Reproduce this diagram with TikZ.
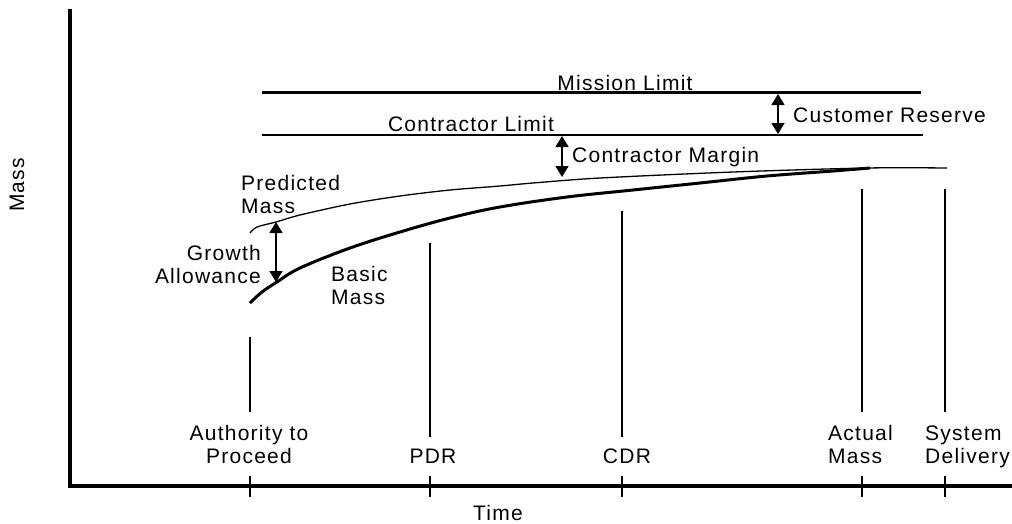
\documentclass[tikz,border=0pt]{standalone}
\usepackage{fontspec}
\setmainfont{Liberation Sans}[LetterSpace=6]
\usetikzlibrary{arrows.meta}

\begin{document}
\begin{tikzpicture}[x=1pt,y=-1pt,
  every node/.style={font=\fontsize{21}{23}\selectfont, inner sep=0pt},
  lbl/.style={anchor=base},
  axisline/.style={line width=3.6pt},
  thicklimit/.style={line width=3pt},
  thinlimit/.style={line width=1.3pt},
  milestone/.style={line width=1.5pt},
  tickmark/.style={line width=1.5pt},
  gap/.style={line width=1.5pt, {Triangle[width=13pt,length=11pt]}-{Triangle[width=13pt,length=11pt]}},
  basiccurve/.style={line width=3pt, line join=round},
  predcurve/.style={line width=1.3pt, line join=round}]
\useasboundingbox (0,0) rectangle (1012,523);

% axes
\coordinate (ytop) at (70,9);
\coordinate (origin) at (70,486);
\coordinate (xend) at (1012,486);
\draw[axisline] (ytop) -- (origin) -- (xend);
\node[rotate=90, anchor=center] (masslbl) at (17,185) {Mass};
\node[lbl] (timelbl) at (498,520) {Time};

% limits
\coordinate (ml1) at (262,92);  \coordinate (ml2) at (921,92);
\coordinate (cl1) at (262,135); \coordinate (cl2) at (923,135);
\draw[thicklimit] (ml1) -- (ml2);
\draw[thinlimit] (cl1) -- (cl2);
\node[lbl] (mltext) at (625,90) {Mission Limit};
\node[lbl] (cltext) at (471,131) {Contractor Limit};

% mass curves
\draw[predcurve] plot[smooth, tension=0.5] coordinates {
  (250,233) (257,227) (276,222) (300,215) (350,204) (400,196) (450,190)
  (500,186) (533,183) (600,178) (733,172) (867,168) (947,168)};
\draw[basiccurve] plot[smooth, tension=0.6] coordinates {
  (250,303) (262,292) (277,282) (300,268) (350,248) (400,232) (450,218)
  (500,207) (567,197) (633,190) (700,183) (767,176) (833,171) (870,168)};

% reserve and margin arrows
\coordinate (crtop) at (778,94);  \coordinate (crbot) at (778,134);
\coordinate (cmtop) at (562,136); \coordinate (cmbot) at (562,177);
\coordinate (gatop) at (276,222); \coordinate (gabot) at (276,282);
\draw[gap] (crtop) -- (crbot);
\draw[gap] (cmtop) -- (cmbot);
\draw[gap] (gatop) -- (gabot);
\node[lbl, anchor=base west] (crtext) at (793,122) {Customer Reserve};
\node[lbl, anchor=base west] (cmtext) at (572,162) {Contractor Margin};
% for the two-line labels the base anchor sits on the last line
\node[lbl, anchor=base east, align=right] (gatext) at (261,283) {Growth\\Allowance};
\node[lbl, anchor=base west, align=left] (pmtext) at (241,213) {Predicted\\Mass};
\node[lbl, anchor=base west, align=left] (bmtext) at (331,304) {Basic\\Mass};

% milestones
\foreach \n/\x/\ya/\yb in {atp/250/337/412, pdr/430/243/437, cdr/622/211/437,
                          act/862/189/412, sdl/945/189/412}{
  \coordinate (\n-top) at (\x,\ya);
  \coordinate (\n-bot) at (\x,\yb);
  \draw[milestone] (\n-top) -- (\n-bot);
  \coordinate (\n-t1) at (\x,476);
  \coordinate (\n-t2) at (\x,497);
  \draw[tickmark] (\n-t1) -- (\n-t2);
}
\node[lbl, align=center] (atptext) at (249,463) {Authority to\\Proceed};
\node[lbl] (pdrtext) at (433,463) {PDR};
\node[lbl] (cdrtext) at (627,463) {CDR};
\node[lbl, anchor=base west, align=left] (acttext) at (828,463) {Actual\\Mass};
\node[lbl, anchor=base west, align=left] (sdltext) at (925,463) {System\\Delivery};
\end{tikzpicture}
\end{document}
